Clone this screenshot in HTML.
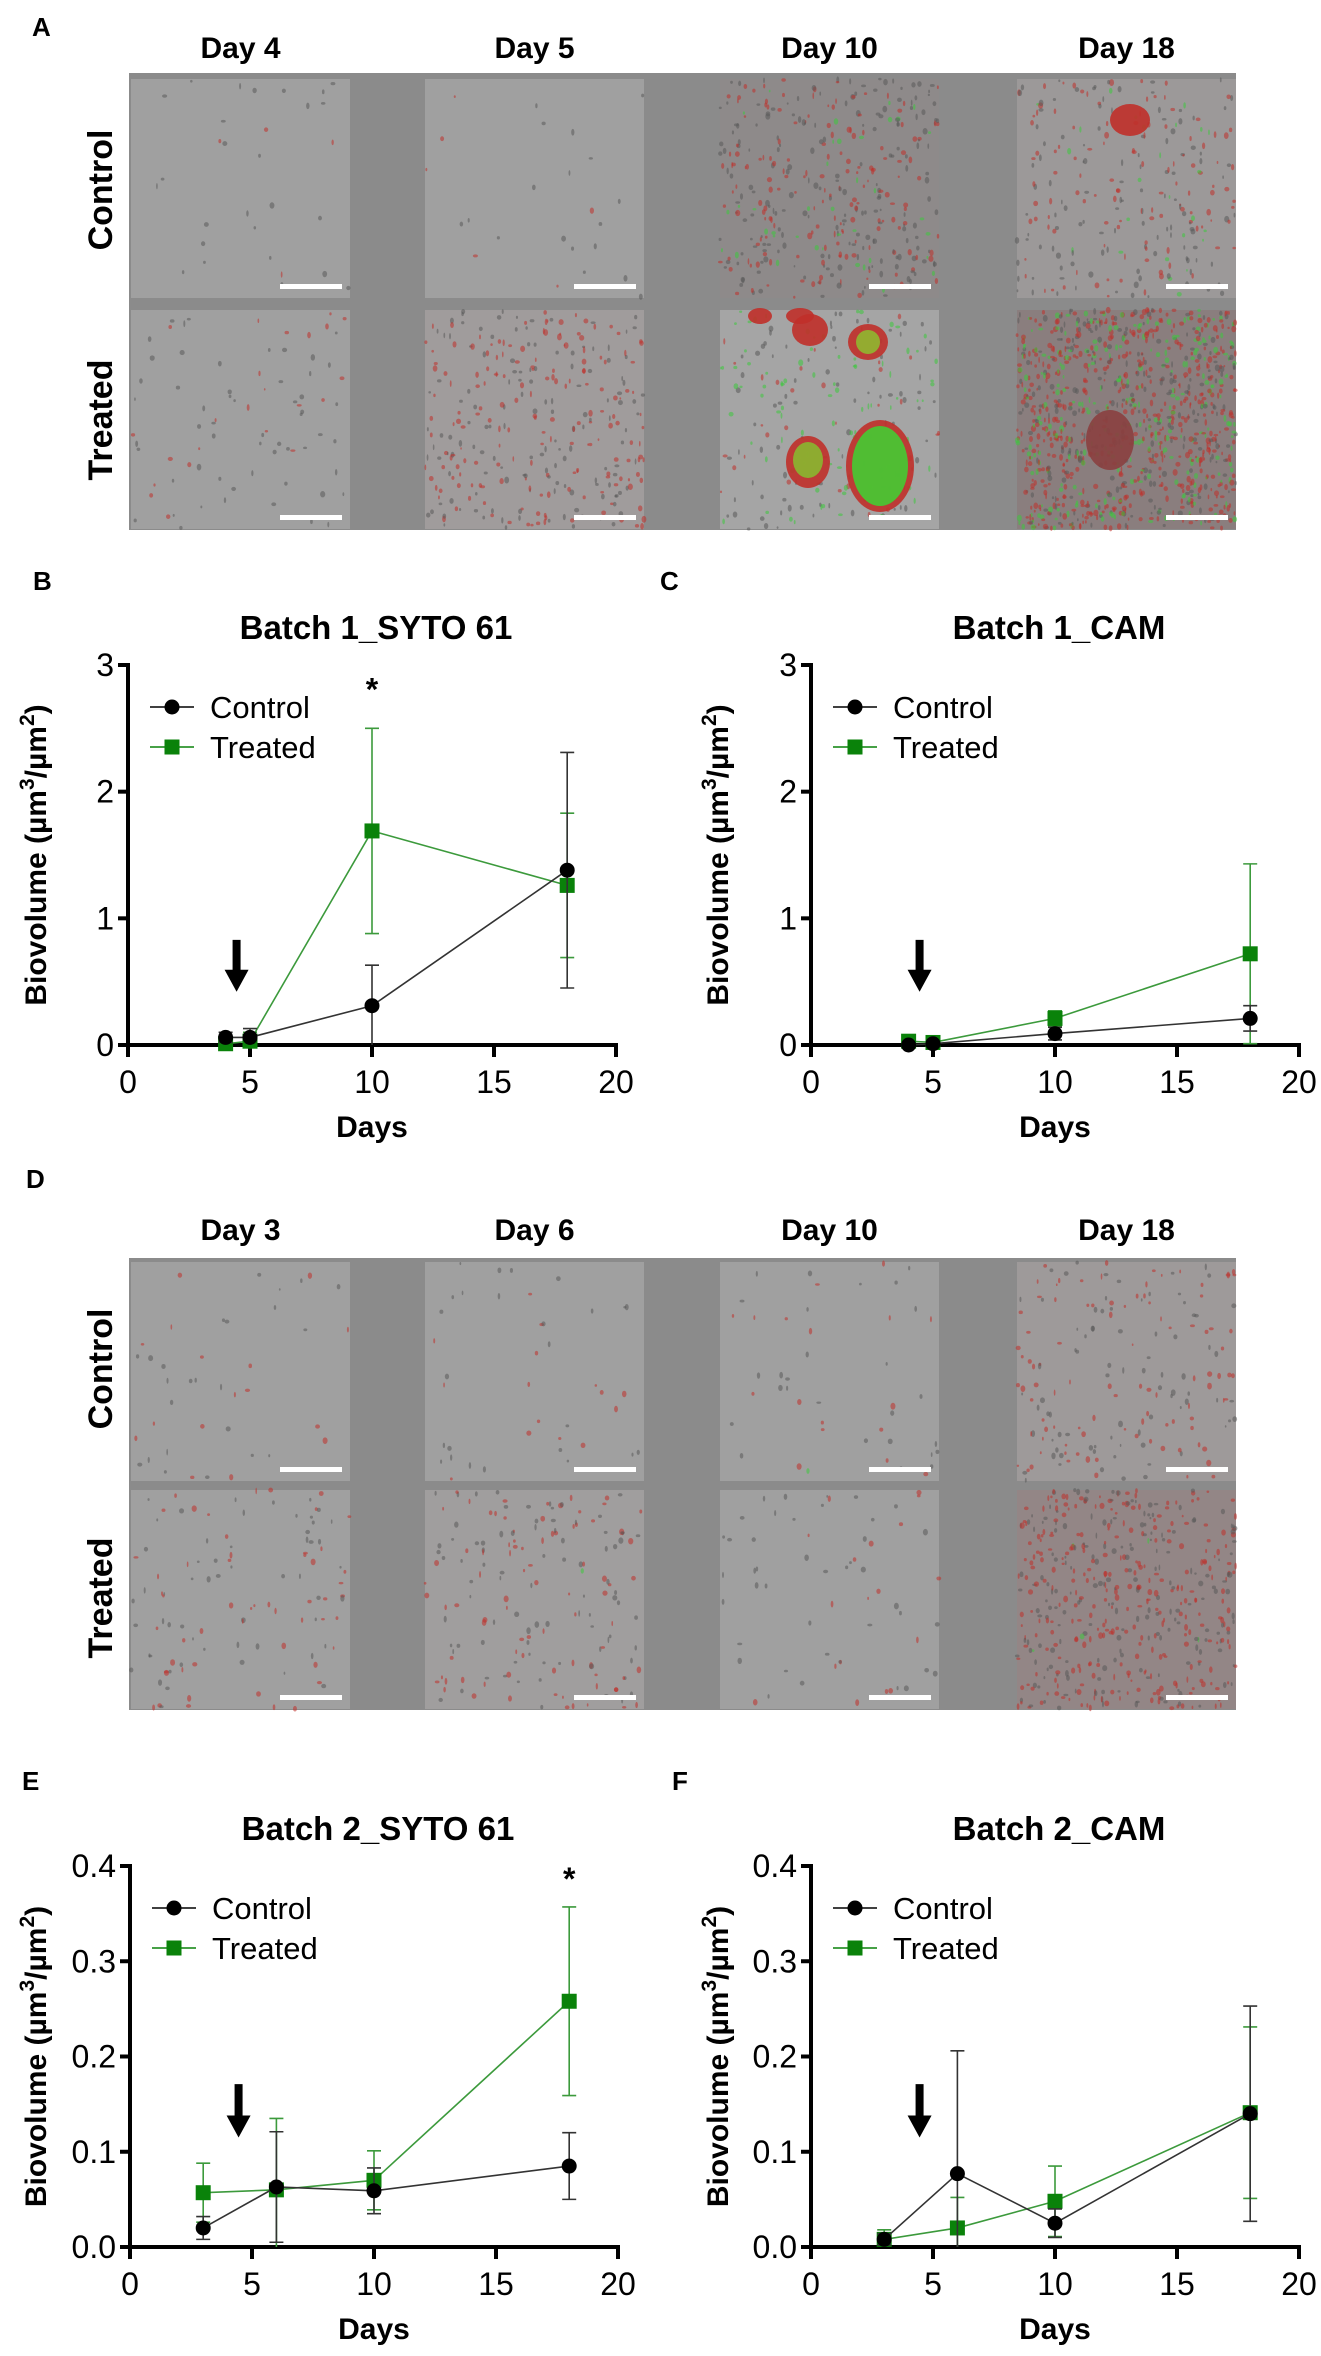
<!DOCTYPE html>
<html><head><meta charset="utf-8">
<style>
html,body{margin:0;padding:0;background:#fff;}
svg{display:block;}
text{font-family:"Liberation Sans",Arial,sans-serif;}
.cond{font-family:"Liberation Sans Narrow","Liberation Sans",sans-serif;font-weight:bold;}
</style></head>
<body>
<svg id="fig" width="1321" height="2356" viewBox="0 0 1321 2356" xmlns="http://www.w3.org/2000/svg">
<g>
<text x="32" y="36" font-size="26" font-weight="bold">A</text>
<rect x="129" y="73" width="1107" height="457" fill="#8b8b8b"/>
</g>
<g>
<text x="26" y="1188" font-size="26" font-weight="bold">D</text>
<rect x="129" y="1258" width="1107" height="452" fill="#8b8b8b"/>
</g>
<g id="imgs"></g>
<g id="charts"></g>
</svg>
<script>
// ---------- chart data ----------
const bDays=[4,5,10,18];
const bCtrl=[0.06,0.06,0.31,1.38];
const bCtrlErr=[0.04,0.07,0.32,0.93];
const bTrt=[0.01,0.03,1.69,1.26];
const bTrtErr=[0.04,0.07,0.81,0.57];

const cDays=[4,5,10,18];
const cCtrl=[0.0,0.01,0.09,0.21];
const cCtrlErr=[0.01,0.01,0.05,0.10];
const cTrt=[0.03,0.02,0.21,0.72];
const cTrtErr=[0.01,0.01,0.06,0.71];

const eDays=[3,6,10,18];
const eCtrl=[0.020,0.063,0.059,0.085];
const eCtrlErr=[0.012,0.058,0.024,0.035];
const eTrt=[0.057,0.060,0.070,0.258];
const eTrtErr=[0.031,0.075,0.031,0.099];

const fDays=[3,6,10,18];
const fCtrl=[0.008,0.077,0.025,0.140];
const fCtrlErr=[0.006,0.129,0.015,0.113];
const fTrt=[0.008,0.020,0.048,0.141];
const fTrtErr=[0.010,0.032,0.037,0.090];

const xTicks=[0,5,10,15,20];
const yTicks1=["0","1","2","3"];
const yTicks2=["0.0","0.1","0.2","0.3","0.4"];

const NS="http://www.w3.org/2000/svg";
function mk(tag,attrs,parent){const e=document.createElementNS(NS,tag);for(const k in attrs)e.setAttribute(k,attrs[k]);parent.appendChild(e);return e;}

// ---------- image panels ----------
const imgs=document.getElementById('imgs');
const colX=[131,425,720,1017];
const rowsA=[79,310], rowsD=[1262,1490];
const imgW=219, imgH=219;
let seed=7;function rnd(){seed=(seed*16807)%2147483647;return (seed-1)/2147483646;}
const dayA=["Day 4","Day 5","Day 10","Day 18"], dayD=["Day 3","Day 6","Day 10","Day 18"];
function panel(rows,days,titleY,rowLabelYs,pname,dens){
  days.forEach((d,i)=>{
    const t=mk('text',{x:colX[i]+imgW/2,y:titleY,'font-size':30,'text-anchor':'middle',class:'cond'},imgs);
    t.textContent=d;
    
    
  });
  ["Control","Treated"].forEach((r,j)=>{
    const t=mk('text',{x:0,y:0,'font-size':34,'font-weight':'bold','text-anchor':'middle',transform:`translate(112,${rowLabelYs[j]}) rotate(-90)`},imgs);
    t.textContent=r;
    
    
  });
  rows.forEach((ry,j)=>{colX.forEach((cx,i)=>{
    const g=mk('g',{},imgs);
    
    
    const dd=dens[j][i];
    mk('rect',{x:cx,y:ry,width:imgW,height:imgH,fill:dd.bg},g);
    for(let k=0;k<dd.n;k++){
      const r=rnd();const col=r<dd.red?'#c0302a':(r<dd.red+dd.green?'#3cc83c':'#5a5a5a');
      mk('ellipse',{cx:cx+rnd()*imgW,cy:ry+rnd()*imgH,rx:0.8+rnd()*1.8,ry:1.2+rnd()*2.2,fill:col,opacity:0.55},g);
    }
    mk('rect',{x:cx+imgW-70,y:ry+imgH-14,width:62,height:5,fill:'#fff'},g);
  });});
}
const dA=[[{bg:'#a0a0a0',n:30,red:0.2,green:0},{bg:'#a0a0a0',n:25,red:0.2,green:0},{bg:'#8e8a8a',n:400,red:0.45,green:0.1},{bg:'#9c9999',n:260,red:0.45,green:0.1}],
          [{bg:'#a0a0a0',n:80,red:0.35,green:0},{bg:'#a09c9c',n:320,red:0.55,green:0},{bg:'#a5a5a5',n:220,red:0.2,green:0.4},{bg:'#8a7e7e',n:1100,red:0.5,green:0.25}]];
panel(rowsA,dayA,58,[190,420],'panel-a',dA);
[[880,466,34,46,'#c0302a'],[880,466,28,40,'#44cc33'],[808,462,22,26,'#c0302a'],[808,460,15,18,'#88b830'],[810,330,18,16,'#c0302a'],[868,342,20,18,'#c0302a'],[868,342,12,12,'#8fb830'],[760,316,12,8,'#c0302a'],[800,316,14,8,'#c0302a'],[1130,120,20,16,'#c0302a'],[1110,440,24,30,'#8a4040']].forEach(b=>{
  mk('ellipse',{cx:b[0],cy:b[1],rx:b[2],ry:b[3],fill:b[4],opacity:0.9},imgs);
});
seed=99;
const dD=[[{bg:'#a0a0a0',n:40,red:0.4,green:0.02},{bg:'#a0a0a0',n:40,red:0.3,green:0.02},{bg:'#a0a0a0',n:45,red:0.3,green:0.02},{bg:'#9e9a9a',n:180,red:0.55,green:0}],
          [{bg:'#a0a0a0',n:110,red:0.4,green:0.01},{bg:'#a09e9e',n:170,red:0.5,green:0.01},{bg:'#a0a0a0',n:60,red:0.3,green:0.01},{bg:'#938686',n:500,red:0.6,green:0.01}]];
panel(rowsD,dayD,1240,[1369,1598],'panel-d',dD);

// ---------- charts ----------
const charts=document.getElementById('charts');
function chart(o){
  const g=mk('g',{},charts);
  
  
  const X=v=>o.x0+(v-0)/(20-0)*(o.x20-o.x0);
  const Y=v=>o.y0-(v/o.ymax)*(o.y0-o.ytop);
  let t=mk('text',{x:o.lx,y:o.ly,'font-size':26,'font-weight':'bold'},g);t.textContent=o.letter;
  
  
  t=mk('text',{x:(o.x0+o.x20)/2+4,y:o.ytop-26,'font-size':33,'font-weight':'bold','text-anchor':'middle'},g);t.textContent=o.title;
  
  
  const ax=mk('path',{d:`M${o.x0-10} ${o.y0}H${o.x20+2}M${o.x0} ${o.y0+2}V${o.ytop}H${o.x0-10}`,stroke:'#000','stroke-width':4,fill:'none'},g);
  
  
  xTicks.forEach(v=>{
    mk('line',{x1:X(v),x2:X(v),y1:o.y0,y2:o.y0+12,stroke:'#000','stroke-width':4},g);
    const tl=mk('text',{x:X(v),y:o.y0+48,'font-size':32,'text-anchor':'middle'},g);tl.textContent=v;
    
    
  });
  o.yt.forEach(s=>{
    const v=parseFloat(s);
    mk('line',{x1:o.x0-10,x2:o.x0,y1:Y(v),y2:Y(v),stroke:'#000','stroke-width':4},g);
    const tl=mk('text',{x:o.x0-14,y:Y(v)+11,'font-size':32,'text-anchor':'end'},g);tl.textContent=s;
    
    
  });
  t=mk('text',{x:(o.x0+o.x20)/2,y:o.y0+92,'font-size':30,'font-weight':'bold','text-anchor':'middle'},g);t.textContent='Days';
  
  
  t=mk('text',{x:0,y:0,'font-size':30,'font-weight':'bold','text-anchor':'middle',transform:`translate(${o.yx},${(o.y0+o.ytop)/2}) rotate(-90)`},g);
  
  
  t.innerHTML='Biovolume (µm<tspan dy="-12" font-size="21">3</tspan><tspan dy="12">/µm</tspan><tspan dy="-12" font-size="21">2</tspan><tspan dy="12">)</tspan>';
  const ax0=X(4.45),ay1=Y(o.arr[0]),ay2=Y(o.arr[1]);
  const ar=mk('path',{d:`M${ax0-4} ${ay1}H${ax0+4}V${ay2-22}H${ax0+12}L${ax0} ${ay2}L${ax0-12} ${ay2-22}H${ax0-4}Z`,fill:'#000'},g);
  
  
  function series(days,vals,errs,color,lcol,shape,nm){
    const sg=mk('g',{},g);
    
    
    mk('polyline',{points:days.map((d,i)=>X(d)+','+Y(vals[i])).join(' '),fill:'none',stroke:lcol,'stroke-width':1.6},sg);
    days.forEach((d,i)=>{
      const lo=Math.max(0,vals[i]-errs[i]),hi=vals[i]+errs[i];
      mk('path',{d:`M${X(d)} ${Y(lo)}V${Y(hi)}M${X(d)-7} ${Y(hi)}H${X(d)+7}`+(vals[i]-errs[i]>0?`M${X(d)-7} ${Y(lo)}H${X(d)+7}`:''),stroke:lcol,'stroke-width':1.6,fill:'none'},sg);
      let m;
      if(shape==='c') m=mk('circle',{cx:X(d),cy:Y(vals[i]),r:7.5,fill:color},sg);
      else m=mk('rect',{x:X(d)-7.5,y:Y(vals[i])-7.5,width:15,height:15,fill:color},sg);
      
      
    });
  }
  series(o.days,o.trt,o.trtErr,'#0a820a','#3c9a3c','s','treated');
  series(o.days,o.ctrl,o.ctrlErr,'#000','#333','c','control');
  if(o.star!==undefined){
    const s=mk('text',{x:X(o.star),y:Y(o.starY),'font-size':32,'font-weight':'bold','text-anchor':'middle'},g);s.textContent='*';
    
    
  }
  const lg=mk('g',{},g);
  
  
  const lx=o.x0+22, ly1=o.ytop+42, ly2=o.ytop+82;
  mk('line',{x1:lx,x2:lx+44,y1:ly1,y2:ly1,stroke:'#000','stroke-width':1.6},lg);
  mk('circle',{cx:lx+22,cy:ly1,r:7.5,fill:'#000'},lg);
  mk('line',{x1:lx,x2:lx+44,y1:ly2,y2:ly2,stroke:'#0a820a','stroke-width':1.6},lg);
  mk('rect',{x:lx+14.5,y:ly2-7.5,width:15,height:15,fill:'#0a820a'},lg);
  let tt=mk('text',{x:lx+60,y:ly1+11,'font-size':31},lg);tt.textContent='Control';
  
  
  tt=mk('text',{x:lx+60,y:ly2+11,'font-size':31},lg);tt.textContent='Treated';
  
  
}
chart({name:'chart-b',letter:'B',lx:33,ly:590,title:'Batch 1_SYTO 61',x0:128,x20:616,ytop:665,y0:1045,ymax:3,yt:yTicks1,yx:46,
  days:bDays,ctrl:bCtrl,ctrlErr:bCtrlErr,trt:bTrt,trtErr:bTrtErr,arr:[0.83,0.42],star:10,starY:2.72});
chart({name:'chart-c',letter:'C',lx:660,ly:590,title:'Batch 1_CAM',x0:811,x20:1299,ytop:665,y0:1045,ymax:3,yt:yTicks1,yx:728,
  days:cDays,ctrl:cCtrl,ctrlErr:cCtrlErr,trt:cTrt,trtErr:cTrtErr,arr:[0.83,0.42]});
chart({name:'chart-e',letter:'E',lx:22,ly:1790,title:'Batch 2_SYTO 61',x0:130,x20:618,ytop:1866,y0:2247,ymax:0.4,yt:yTicks2,yx:46,
  days:eDays,ctrl:eCtrl,ctrlErr:eCtrlErr,trt:eTrt,trtErr:eTrtErr,arr:[0.171,0.115],star:18,starY:0.375});
chart({name:'chart-f',letter:'F',lx:672,ly:1790,title:'Batch 2_CAM',x0:811,x20:1299,ytop:1866,y0:2247,ymax:0.4,yt:yTicks2,yx:728,
  days:fDays,ctrl:fCtrl,ctrlErr:fCtrlErr,trt:fTrt,trtErr:fTrtErr,arr:[0.171,0.115]});
</script>
</body></html>
